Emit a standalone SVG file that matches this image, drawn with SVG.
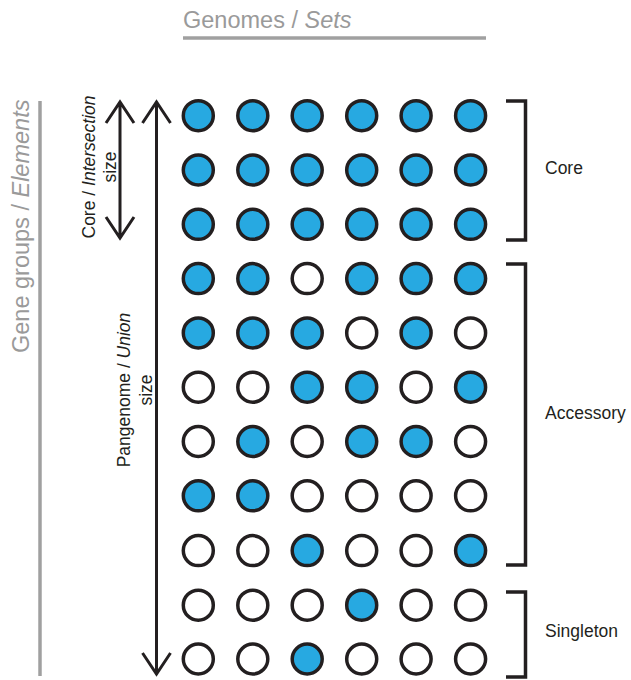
<svg xmlns="http://www.w3.org/2000/svg" width="631" height="680" viewBox="0 0 631 680">
<style>
.axis{stroke:#a0a0a0;stroke-width:3.5;fill:none}
.atxt{font-family:"Liberation Sans",Arial,sans-serif;font-size:23.5px;fill:#9a9a9a}
.lbl{font-family:"Liberation Sans",Arial,sans-serif;font-size:17.5px;fill:#231f20}
.arr{stroke:#231f20;stroke-width:3;fill:none;stroke-linecap:butt;stroke-linejoin:miter}
.br{stroke:#231f20;stroke-width:3.5;fill:none}
.c{stroke:#231f20;stroke-width:3.5;fill:#ffffff}
.f{fill:#27a9e1}
</style>
<g id="axis-genomes">
<text class="atxt" x="183" y="28">Genomes / <tspan font-style="italic">Sets</tspan></text>
<line class="axis" x1="183" y1="38" x2="486" y2="38"/>
</g>
<g id="axis-genegroups">
<text class="atxt" transform="translate(29,353) rotate(-90)">Gene groups / <tspan font-style="italic">Elements</tspan></text>
<line class="axis" x1="40" y1="101" x2="40" y2="676"/>
</g>
<g id="connectors">
<path class="arr" d="M120,102 V238 M106,123 L120,102 L134,123 M106,217 L120,238 L134,217"/>
<path class="arr" d="M156.5,102 V674 M142.5,123 L156.5,102 L170.5,123 M142.5,653 L156.5,674 L170.5,653"/>
</g>
<g id="label-core-size">
<text class="lbl" text-anchor="middle" transform="translate(95,167) rotate(-90)">Core / <tspan font-style="italic">Intersection</tspan></text>
<text class="lbl" text-anchor="middle" transform="translate(116,167) rotate(-90)">size</text>
</g>
<g id="label-pan-size">
<text class="lbl" text-anchor="middle" transform="translate(130,390) rotate(-90)">Pangenome / <tspan font-style="italic">Union</tspan></text>
<text class="lbl" text-anchor="middle" transform="translate(152,390) rotate(-90)">size</text>
</g>
<g id="matrix">
<g id="row1"><circle class="c f" cx="198.3" cy="115.7" r="15"/><circle class="c f" cx="252.8" cy="115.7" r="15"/><circle class="c f" cx="307.2" cy="115.7" r="15"/><circle class="c f" cx="361.7" cy="115.7" r="15"/><circle class="c f" cx="416.1" cy="115.7" r="15"/><circle class="c f" cx="470.6" cy="115.7" r="15"/></g>
<g id="row2"><circle class="c f" cx="198.3" cy="170" r="15"/><circle class="c f" cx="252.8" cy="170" r="15"/><circle class="c f" cx="307.2" cy="170" r="15"/><circle class="c f" cx="361.7" cy="170" r="15"/><circle class="c f" cx="416.1" cy="170" r="15"/><circle class="c f" cx="470.6" cy="170" r="15"/></g>
<g id="row3"><circle class="c f" cx="198.3" cy="224.3" r="15"/><circle class="c f" cx="252.8" cy="224.3" r="15"/><circle class="c f" cx="307.2" cy="224.3" r="15"/><circle class="c f" cx="361.7" cy="224.3" r="15"/><circle class="c f" cx="416.1" cy="224.3" r="15"/><circle class="c f" cx="470.6" cy="224.3" r="15"/></g>
<g id="row4"><circle class="c f" cx="198.3" cy="278.6" r="15"/><circle class="c f" cx="252.8" cy="278.6" r="15"/><circle class="c" cx="307.2" cy="278.6" r="15"/><circle class="c f" cx="361.7" cy="278.6" r="15"/><circle class="c f" cx="416.1" cy="278.6" r="15"/><circle class="c f" cx="470.6" cy="278.6" r="15"/></g>
<g id="row5"><circle class="c f" cx="198.3" cy="332.9" r="15"/><circle class="c f" cx="252.8" cy="332.9" r="15"/><circle class="c f" cx="307.2" cy="332.9" r="15"/><circle class="c" cx="361.7" cy="332.9" r="15"/><circle class="c f" cx="416.1" cy="332.9" r="15"/><circle class="c" cx="470.6" cy="332.9" r="15"/></g>
<g id="row6"><circle class="c" cx="198.3" cy="387.2" r="15"/><circle class="c" cx="252.8" cy="387.2" r="15"/><circle class="c f" cx="307.2" cy="387.2" r="15"/><circle class="c f" cx="361.7" cy="387.2" r="15"/><circle class="c" cx="416.1" cy="387.2" r="15"/><circle class="c f" cx="470.6" cy="387.2" r="15"/></g>
<g id="row7"><circle class="c" cx="198.3" cy="441.5" r="15"/><circle class="c f" cx="252.8" cy="441.5" r="15"/><circle class="c" cx="307.2" cy="441.5" r="15"/><circle class="c f" cx="361.7" cy="441.5" r="15"/><circle class="c f" cx="416.1" cy="441.5" r="15"/><circle class="c" cx="470.6" cy="441.5" r="15"/></g>
<g id="row8"><circle class="c f" cx="198.3" cy="495.8" r="15"/><circle class="c f" cx="252.8" cy="495.8" r="15"/><circle class="c" cx="307.2" cy="495.8" r="15"/><circle class="c" cx="361.7" cy="495.8" r="15"/><circle class="c" cx="416.1" cy="495.8" r="15"/><circle class="c" cx="470.6" cy="495.8" r="15"/></g>
<g id="row9"><circle class="c" cx="198.3" cy="550.6" r="15"/><circle class="c" cx="252.8" cy="550.6" r="15"/><circle class="c f" cx="307.2" cy="550.6" r="15"/><circle class="c" cx="361.7" cy="550.6" r="15"/><circle class="c" cx="416.1" cy="550.6" r="15"/><circle class="c f" cx="470.6" cy="550.6" r="15"/></g>
<g id="row10"><circle class="c" cx="198.3" cy="605.2" r="15"/><circle class="c" cx="252.8" cy="605.2" r="15"/><circle class="c" cx="307.2" cy="605.2" r="15"/><circle class="c f" cx="361.7" cy="605.2" r="15"/><circle class="c" cx="416.1" cy="605.2" r="15"/><circle class="c" cx="470.6" cy="605.2" r="15"/></g>
<g id="row11"><circle class="c" cx="198.3" cy="659" r="15"/><circle class="c" cx="252.8" cy="659" r="15"/><circle class="c f" cx="307.2" cy="659" r="15"/><circle class="c" cx="361.7" cy="659" r="15"/><circle class="c" cx="416.1" cy="659" r="15"/><circle class="c" cx="470.6" cy="659" r="15"/></g>
</g>
<g id="group-core">
<path class="br" d="M506,101 H525.5 V240 H506"/>
<text class="lbl" x="545" y="174">Core</text>
</g>
<g id="group-accessory">
<path class="br" d="M506,264 H525.5 V565 H506"/>
<text class="lbl" x="545" y="419">Accessory</text>
</g>
<g id="group-singleton">
<path class="br" d="M506,592 H525.5 V677 H506"/>
<text class="lbl" x="545" y="637">Singleton</text>
</g>
</svg>
